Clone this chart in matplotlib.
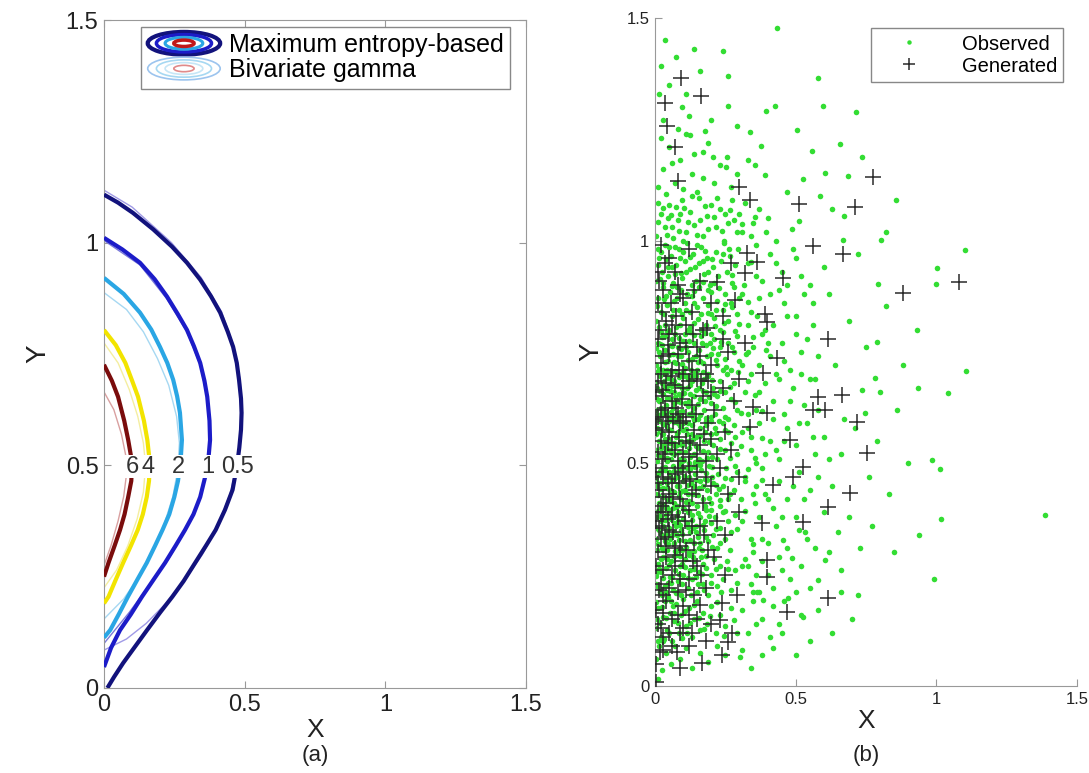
import matplotlib
matplotlib.use('Agg')
import matplotlib.pyplot as plt
import numpy as np
from matplotlib.patches import Ellipse
from matplotlib.legend_handler import HandlerBase
from matplotlib.lines import Line2D

plt.rcParams['font.family'] = ['Liberation Sans', 'DejaVu Sans']

# contour levels, points are (x, y)
levels = ['0.5', '1', '2', '4', '6']
me_05 = [(0.0,1.108),(0.05,1.09),(0.103,1.067),(0.175,1.03),(0.242,0.991),(0.295,0.955),(0.342,0.917),(0.38,0.88),
         (0.413,0.843),(0.44,0.80),(0.459,0.766),(0.472,0.73),(0.48,0.692),(0.487,0.65),(0.489,0.618),(0.487,0.58),
         (0.481,0.54),(0.473,0.50),(0.457,0.445),(0.43,0.40),(0.397,0.355),(0.363,0.32),(0.324,0.281),(0.283,0.24),
         (0.243,0.205),(0.2,0.17),(0.153,0.13),(0.107,0.09),(0.068,0.056),(0.036,0.025),(0.012,0.0)]
me_1 = [(0.0,1.011),(0.065,0.985),(0.128,0.955),(0.18,0.918),(0.224,0.879),(0.262,0.84),(0.295,0.804),(0.32,0.767),
        (0.342,0.73),(0.357,0.69),(0.367,0.654),(0.375,0.60),(0.377,0.557),(0.37,0.506),(0.358,0.47),(0.342,0.429),
        (0.318,0.39),(0.288,0.355),(0.255,0.32),(0.217,0.281),(0.178,0.245),(0.135,0.205),(0.095,0.165),(0.057,0.13),
        (0.025,0.09),(0.0,0.047)]
me_2 = [(0.0,0.921),(0.07,0.885),(0.128,0.843),(0.168,0.805),(0.199,0.766),(0.225,0.73),(0.246,0.692),(0.26,0.655),
        (0.27,0.618),(0.277,0.557),(0.272,0.506),(0.263,0.465),(0.25,0.429),(0.232,0.39),(0.208,0.355),(0.182,0.32),
        (0.152,0.281),(0.12,0.245),(0.085,0.205),(0.052,0.165),(0.022,0.13),(0.0,0.113)]
me_4 = [(0.0,0.804),(0.042,0.77),(0.076,0.73),(0.1,0.69),(0.121,0.654),(0.142,0.60),(0.154,0.557),(0.163,0.506),
        (0.16,0.465),(0.152,0.429),(0.138,0.39),(0.12,0.355),(0.096,0.32),(0.068,0.281),(0.043,0.245),(0.016,0.205),(0.0,0.19)]
me_6 = [(0.0,0.726),(0.028,0.69),(0.05,0.654),(0.072,0.60),(0.086,0.557),(0.1,0.506),(0.097,0.465),(0.086,0.429),
        (0.073,0.39),(0.057,0.355),(0.038,0.32),(0.016,0.281),(0.0,0.25)]

g_05 = [(0.0,1.118),(0.1,1.08),(0.24,1.0),(0.345,0.922),(0.418,0.845),(0.462,0.766),(0.484,0.69),(0.491,0.618),
        (0.486,0.56),(0.472,0.5),(0.448,0.435),(0.405,0.365),(0.35,0.3),(0.29,0.245),(0.22,0.19),(0.15,0.145),(0.08,0.11),(0.0,0.085)]
g_1 = [(0.0,1.005),(0.128,0.95),(0.222,0.875),(0.295,0.8),(0.342,0.725),(0.37,0.64),(0.376,0.557),(0.368,0.5),
       (0.34,0.425),(0.29,0.355),(0.23,0.29),(0.16,0.23),(0.09,0.17),(0.0,0.1)]
g_2 = [(0.0,0.888),(0.08,0.85),(0.14,0.8),(0.19,0.74),(0.23,0.68),(0.258,0.61),(0.268,0.55),(0.262,0.49),
       (0.245,0.43),(0.215,0.37),(0.175,0.31),(0.125,0.25),(0.07,0.2),(0.0,0.155)]
g_4 = [(0.0,0.775),(0.05,0.73),(0.09,0.67),(0.12,0.61),(0.14,0.55),(0.148,0.5),(0.14,0.44),(0.118,0.38),
       (0.085,0.32),(0.045,0.265),(0.0,0.225)]
g_6 = [(0.0,0.665),(0.035,0.625),(0.062,0.57),(0.078,0.52),(0.08,0.48),(0.07,0.43),(0.05,0.375),(0.025,0.32),(0.0,0.275)]

label_x = [0.473, 0.37, 0.263, 0.157, 0.1]

# panel (b) points
gen_pts = [(0.093,1.364),(0.164,1.324),(0.036,1.308),(0.043,1.256),(0.071,1.211),(0.082,1.133),(0.299,1.121),(0.338,1.092),
    (0.512,1.083),(0.712,1.076),(0.776,1.142),(0.883,0.883),(1.082,0.908),(0.562,0.987),(0.669,0.969),(0.327,0.973),
    (0.363,0.951),(0.456,0.917),(0.32,0.928),(0.221,0.906),(0.285,0.867),(0.391,0.834),(0.399,0.818),(0.616,0.778),
    (0.185,0.804),(0.242,0.778),(0.434,0.737),(0.384,0.703),(0.665,0.654),(0.58,0.649),(0.562,0.62),(0.605,0.62),
    (0.719,0.593),(0.527,0.492),(0.48,0.553),(0.349,0.627),(0.399,0.613),(0.338,0.582),(0.694,0.434),(0.616,0.402),
    (0.527,0.369),(0.381,0.366),(0.399,0.283),(0.399,0.245),(0.616,0.198),(0.47,0.166),(0.292,0.204),(0.238,0.187),
    (0.231,0.148),(0.274,0.119),(0.26,0.099),(0.238,0.07),(0.167,0.052),(0.089,0.119),(0.078,0.076),(0.018,0.076),
    (0.42,0.452),(0.491,0.47),(0.16,0.182),(0.754,0.524),
    (0.01,0.93),(0.05,0.96),(0.12,0.98),(0.02,0.99),(0.16,0.91),(0.08,0.90),(0.27,0.95),
    (0.01,0.86),(0.04,0.82),(0.09,0.88),(0.13,0.84),(0.2,0.86),(0.06,0.81),(0.24,0.83),(0.17,0.80),(0.03,0.89),(0.11,0.81),
    (0.01,0.78),(0.03,0.74),(0.06,0.71),(0.09,0.77),(0.12,0.73),(0.15,0.76),(0.2,0.72),(0.05,0.79),(0.26,0.75),(0.02,0.70),
    (0.18,0.70),(0.1,0.70),(0.32,0.77),(0.08,0.745),
    (0.005,0.66),(0.02,0.62),(0.04,0.68),(0.06,0.64),(0.08,0.61),(0.1,0.67),(0.13,0.63),(0.15,0.69),(0.17,0.65),(0.21,0.62),
    (0.24,0.67),(0.03,0.65),(0.07,0.675),(0.11,0.605),(0.28,0.64),(0.19,0.685),(0.012,0.605),(0.045,0.605),(0.3,0.69),
    (0.005,0.58),(0.02,0.55),(0.03,0.51),(0.05,0.57),(0.07,0.53),(0.09,0.59),(0.11,0.55),(0.12,0.515),(0.14,0.575),(0.16,0.54),
    (0.19,0.59),(0.22,0.52),(0.25,0.57),(0.04,0.595),(0.08,0.505),(0.01,0.525),(0.27,0.53),(0.18,0.505),(0.06,0.545),(0.1,0.52),
    (0.005,0.48),(0.015,0.44),(0.03,0.47),(0.04,0.41),(0.06,0.455),(0.08,0.49),(0.09,0.42),(0.11,0.46),(0.13,0.43),(0.15,0.48),
    (0.17,0.41),(0.2,0.45),(0.23,0.49),(0.05,0.43),(0.02,0.405),(0.07,0.475),(0.12,0.495),(0.26,0.43),(0.3,0.47),(0.1,0.405),
    (0.005,0.37),(0.02,0.33),(0.03,0.39),(0.05,0.35),(0.07,0.31),(0.08,0.38),(0.1,0.34),(0.12,0.395),(0.14,0.32),(0.16,0.36),
    (0.19,0.305),(0.22,0.37),(0.04,0.315),(0.06,0.385),(0.25,0.34),(0.11,0.305),(0.015,0.355),(0.3,0.39),
    (0.005,0.27),(0.02,0.23),(0.04,0.29),(0.06,0.25),(0.08,0.21),(0.1,0.28),(0.12,0.24),(0.15,0.27),(0.18,0.22),(0.21,0.29),
    (0.03,0.205),(0.07,0.295),(0.25,0.25),(0.14,0.205),
    (0.005,0.17),(0.02,0.13),(0.04,0.19),(0.06,0.15),(0.1,0.18),(0.13,0.12),(0.12,0.16),(0.2,0.14),(0.03,0.11),
    (0.005,0.05),(0.03,0.08),(0.005,0.01),(0.12,0.09),(0.09,0.04),
    (0.015,0.91),(0.035,0.95),(0.07,0.93),(0.1,0.87),(0.025,0.84),(0.055,0.86),(0.14,0.89),(0.075,0.83),
    (0.015,0.8),(0.045,0.765),(0.07,0.79),(0.11,0.76),(0.135,0.79),(0.02,0.725),(0.05,0.745),(0.085,0.71),(0.13,0.71),(0.16,0.74),
    (0.01,0.685),(0.035,0.625),(0.055,0.695),(0.075,0.625),(0.095,0.645),(0.12,0.685),(0.145,0.61),(0.165,0.685),(0.2,0.66),(0.025,0.665),
    (0.005,0.6),(0.025,0.575),(0.045,0.545),(0.065,0.595),(0.085,0.56),(0.1,0.595),(0.125,0.545),(0.15,0.52),(0.175,0.565),(0.035,0.52),(0.2,0.555),
    (0.01,0.455),(0.025,0.49),(0.045,0.465),(0.065,0.425),(0.085,0.455),(0.1,0.48),(0.125,0.465),(0.145,0.44),(0.18,0.47),(0.03,0.425),
    (0.01,0.39),(0.025,0.36),(0.045,0.375),(0.065,0.345),(0.09,0.315),(0.105,0.37),(0.13,0.36),(0.175,0.34),(0.035,0.335),
    (0.012,0.3),(0.03,0.26),(0.05,0.22),(0.07,0.27),(0.09,0.24),(0.11,0.215),(0.135,0.28),(0.165,0.25),(0.015,0.215),
    (0.01,0.14),(0.05,0.12),(0.08,0.16),(0.15,0.15),(0.03,0.165),(0.1,0.13),(0.18,0.1),(0.06,0.09)]

obs_pts = [(0.434,1.476),(0.242,1.425),(0.075,1.411),(0.021,1.391),(0.26,1.369),(0.58,1.364),(0.096,1.299),(0.26,1.303),
    (0.427,1.303),(0.395,1.29),(0.598,1.301),(0.715,1.288),(0.292,1.256),(0.338,1.243),(0.505,1.247),(0.125,1.236),
    (0.178,1.245),(0.658,1.216),(0.377,1.213),(0.559,1.2),(0.171,1.198),(0.206,1.187),(0.256,1.187),(0.253,1.166),
    (0.331,1.18),(0.356,1.169),(0.391,1.148),(0.605,1.151),(0.687,1.144),(0.47,1.11),(0.527,1.137),(0.63,1.07),
    (0.587,1.101),(0.673,1.054),(0.488,1.025),(0.512,1.043),(0.669,1.002),(0.737,1.187),(0.858,1.09),(0.822,1.02),(0.804,1.002),
    (1.103,0.978),(1.003,0.939),(1.0,0.903),(0.794,0.903),(0.822,0.854),(0.79,0.773),(1.107,0.708),(0.783,0.692),
    (0.936,0.67),(0.8,0.661),(1.04,0.658),(0.737,0.665),(0.747,0.613),(0.986,0.508),(1.014,0.488),(0.722,0.204),
    (0.651,0.346),(0.605,0.283),(0.58,0.238),(0.527,0.155),(0.42,0.085),(0.488,0.288),(0.456,0.328),(0.473,0.198),
    (0.363,0.211),(0.384,0.193),(0.302,0.065),(0.534,0.346),(1.385,0.385),(1.015,0.375),(0.99,0.24),(0.94,0.34),
    (0.62,0.88),(0.69,0.82),(0.75,0.76),(0.64,0.72),(0.71,0.58),(0.66,0.52),(0.76,0.47),(0.63,0.45),(0.69,0.38),(0.73,0.31),
    (0.6,0.56),(0.67,0.6),(0.62,0.3),(0.57,0.69),(0.54,0.78),(0.6,0.94),(0.72,0.97),(0.56,0.86),(0.66,0.26),(0.79,0.55),
    (0.83,0.43),(0.86,0.62),(0.9,0.5),(0.88,0.72),(0.93,0.8),(0.77,0.36),(0.85,0.3),(0.7,0.15),(0.63,0.12),(0.55,0.1),
    (0.5,0.07),(0.45,0.12),(0.58,0.17),(0.66,0.21),
    (0.31,1.02),(0.36,0.99),(0.41,0.97),(0.45,0.93),(0.33,0.95),(0.38,0.91),(0.43,1.0),(0.5,0.96),(0.47,0.9),(0.52,0.92),
    (0.35,1.04),(0.4,1.05),(0.31,0.88),(0.34,0.84),(0.37,0.87),(0.42,0.81),(0.46,0.86),(0.5,0.83),(0.53,0.88),(0.39,0.8),
    (0.33,0.81),(0.44,0.89),(0.31,0.72),(0.35,0.76),(0.38,0.79),(0.41,0.74),(0.45,0.77),(0.48,0.71),(0.52,0.75),(0.34,0.7),
    (0.43,0.7),(0.5,0.79),(0.32,0.66),(0.36,0.62),(0.39,0.68),(0.42,0.64),(0.46,0.61),(0.49,0.67),(0.53,0.63),(0.55,0.69),
    (0.33,0.61),(0.44,0.69),(0.58,0.62),(0.31,0.57),(0.34,0.53),(0.37,0.59),(0.41,0.55),(0.44,0.51),(0.47,0.58),(0.5,0.54),
    (0.54,0.59),(0.57,0.52),(0.39,0.52),(0.46,0.55),(0.32,0.47),(0.35,0.43),(0.38,0.49),(0.4,0.42),(0.44,0.46),(0.47,0.42),
    (0.51,0.48),(0.55,0.44),(0.58,0.47),(0.36,0.45),(0.42,0.4),(0.31,0.37),(0.34,0.33),(0.37,0.38),(0.4,0.32),(0.43,0.36),
    (0.47,0.31),(0.5,0.38),(0.54,0.33),(0.35,0.3),(0.31,0.27),(0.34,0.23),(0.38,0.28),(0.42,0.22),(0.45,0.26),(0.5,0.21),
    (0.52,0.27),(0.36,0.25),(0.31,0.17),(0.33,0.12),(0.38,0.15),(0.42,0.18),(0.35,0.19),(0.44,0.14),(0.31,0.08),(0.34,0.04),(0.38,0.07),
    (0.01,1.12),(0.03,1.16),(0.05,1.21),(0.07,1.13),(0.09,1.18),(0.11,1.24),(0.13,1.15),(0.15,1.11),(0.17,1.14),(0.19,1.22),
    (0.21,1.13),(0.23,1.17),(0.27,1.12),(0.29,1.15),(0.02,1.23),(0.04,1.105),(0.06,1.175),(0.1,1.115),(0.14,1.195),(0.08,1.25),
    (0.12,1.28),(0.03,1.27),(0.2,1.27),(0.015,1.33),(0.05,1.35),(0.11,1.33),(0.16,1.38),(0.035,1.45),(0.14,1.43),
    (0.005,1.01),(0.02,1.06),(0.035,1.03),(0.05,1.08),(0.065,1.005),(0.08,1.045),(0.095,1.09),(0.11,1.02),(0.125,1.065),
    (0.14,1.035),(0.155,1.095),(0.17,1.01),(0.185,1.055),(0.2,1.08),(0.215,1.03),(0.23,1.07),(0.245,1.0),(0.26,1.04),
    (0.275,1.09),(0.29,1.02),(0.3,1.06),(0.32,1.085),(0.34,1.01),(0.37,1.07),(0.01,1.085),(0.045,1.05),(0.075,1.075),
    (0.1,1.0),(0.13,1.1),(0.16,1.045),(0.19,1.025),(0.22,1.095),(0.25,1.06),(0.28,1.045),(0.06,1.03),(0.09,1.06),
    (0.005,0.91),(0.015,0.96),(0.025,0.93),(0.035,0.99),(0.045,0.92),(0.055,0.965),(0.065,0.905),(0.075,0.945),(0.085,0.98),
    (0.095,0.915),(0.105,0.955),(0.115,0.995),(0.125,0.935),(0.135,0.97),(0.145,0.91),(0.155,0.95),(0.165,0.985),(0.175,0.925),
    (0.185,0.96),(0.195,0.9),(0.205,0.94),(0.215,0.975),(0.225,0.92),(0.235,0.955),(0.245,0.995),(0.255,0.93),(0.265,0.965),
    (0.275,0.905),(0.285,0.945),(0.295,0.98),(0.01,0.945),(0.03,0.905),(0.05,0.985),(0.07,0.925),(0.09,0.96),(0.11,0.93),
    (0.13,0.9),(0.15,0.99),(0.17,0.955),(0.19,0.93),(0.21,0.905),(0.24,0.97),(0.02,0.975),(0.06,0.94),(0.1,0.975),
    (0.005,0.82),(0.012,0.87),(0.02,0.84),(0.028,0.895),(0.036,0.81),(0.044,0.855),(0.052,0.885),(0.06,0.83),(0.068,0.865),
    (0.076,0.805),(0.084,0.845),(0.092,0.89),(0.1,0.825),(0.108,0.86),(0.116,0.8),(0.124,0.84),(0.132,0.875),(0.14,0.815),
    (0.148,0.85),(0.156,0.895),(0.164,0.835),(0.172,0.87),(0.18,0.81),(0.19,0.855),(0.2,0.885),(0.21,0.825),(0.22,0.865),
    (0.23,0.8),(0.24,0.845),(0.25,0.88),(0.26,0.82),(0.27,0.86),(0.28,0.895),(0.29,0.835),(0.3,0.87),(0.015,0.805),
    (0.04,0.875),(0.065,0.845),(0.09,0.81),(0.115,0.88),(0.14,0.86),(0.165,0.8),(0.19,0.89),(0.215,0.845),(0.245,0.815),
    (0.275,0.85),(0.032,0.835),(0.078,0.895),(0.125,0.805),(0.2,0.835),
    (0.004,0.72),(0.01,0.77),(0.016,0.74),(0.022,0.795),(0.028,0.71),(0.034,0.755),(0.04,0.785),(0.046,0.73),(0.052,0.765),
    (0.058,0.705),(0.064,0.745),(0.07,0.79),(0.076,0.725),(0.082,0.76),(0.088,0.7),(0.094,0.74),(0.1,0.775),(0.108,0.715),
    (0.116,0.75),(0.124,0.795),(0.132,0.735),(0.14,0.77),(0.148,0.71),(0.156,0.755),(0.164,0.785),(0.172,0.725),(0.18,0.765),
    (0.19,0.7),(0.2,0.745),(0.21,0.78),(0.22,0.72),(0.23,0.76),(0.24,0.795),(0.25,0.735),(0.26,0.77),(0.27,0.71),(0.28,0.75),
    (0.29,0.785),(0.008,0.705),(0.026,0.765),(0.044,0.71),(0.062,0.78),(0.08,0.74),(0.098,0.705),(0.12,0.775),(0.145,0.74),
    (0.17,0.705),(0.195,0.77),(0.225,0.745),(0.255,0.7),(0.013,0.75),(0.05,0.8),(0.105,0.79),(0.16,0.73),(0.3,0.73),
    (0.003,0.62),(0.008,0.67),(0.013,0.64),(0.018,0.695),(0.023,0.61),(0.028,0.655),(0.033,0.685),(0.038,0.63),(0.043,0.665),
    (0.048,0.605),(0.053,0.645),(0.058,0.69),(0.063,0.625),(0.068,0.66),(0.073,0.6),(0.078,0.64),(0.083,0.675),(0.088,0.615),
    (0.093,0.65),(0.098,0.695),(0.105,0.635),(0.112,0.67),(0.119,0.61),(0.126,0.655),(0.133,0.685),(0.14,0.625),(0.147,0.665),
    (0.154,0.6),(0.161,0.645),(0.168,0.68),(0.175,0.62),(0.182,0.66),(0.19,0.695),(0.198,0.635),(0.206,0.67),(0.214,0.61),
    (0.222,0.65),(0.23,0.685),(0.24,0.625),(0.25,0.66),(0.26,0.6),(0.27,0.645),(0.28,0.68),(0.29,0.62),(0.006,0.645),
    (0.02,0.625),(0.036,0.7),(0.05,0.675),(0.066,0.635),(0.08,0.605),(0.096,0.67),(0.116,0.69),(0.136,0.605),(0.158,0.67),
    (0.178,0.64),(0.2,0.605),(0.026,0.68),(0.056,0.615),(0.086,0.655),(0.12,0.64),
    (0.003,0.53),(0.008,0.58),(0.013,0.55),(0.018,0.595),(0.023,0.515),(0.028,0.565),(0.033,0.54),(0.038,0.585),(0.043,0.505),
    (0.048,0.555),(0.053,0.53),(0.058,0.575),(0.063,0.6),(0.068,0.52),(0.073,0.56),(0.078,0.54),(0.083,0.59),(0.088,0.51),
    (0.093,0.55),(0.098,0.575),(0.105,0.525),(0.112,0.565),(0.119,0.5),(0.126,0.545),(0.133,0.585),(0.14,0.52),(0.147,0.56),
    (0.154,0.535),(0.161,0.58),(0.168,0.505),(0.175,0.55),(0.182,0.595),(0.19,0.525),(0.198,0.565),(0.206,0.54),(0.214,0.58),
    (0.222,0.51),(0.23,0.555),(0.24,0.59),(0.25,0.53),(0.26,0.57),(0.27,0.545),(0.28,0.585),(0.29,0.52),(0.006,0.505),
    (0.02,0.57),(0.036,0.525),(0.05,0.595),(0.066,0.545),(0.08,0.57),(0.096,0.505),(0.116,0.59),(0.136,0.555),(0.158,0.51),
    (0.178,0.57),(0.2,0.595),(0.026,0.54),(0.056,0.51),(0.086,0.6),(0.12,0.535),
    (0.004,0.43),(0.009,0.475),(0.014,0.41),(0.019,0.455),(0.024,0.49),(0.029,0.425),(0.034,0.465),(0.039,0.4),(0.044,0.445),
    (0.049,0.48),(0.054,0.415),(0.059,0.46),(0.064,0.495),(0.069,0.435),(0.074,0.47),(0.079,0.405),(0.084,0.45),(0.089,0.485),
    (0.094,0.42),(0.099,0.46),(0.106,0.44),(0.113,0.49),(0.12,0.415),(0.127,0.455),(0.134,0.43),(0.141,0.475),(0.148,0.405),
    (0.155,0.445),(0.162,0.485),(0.169,0.42),(0.176,0.465),(0.183,0.44),(0.191,0.495),(0.199,0.41),(0.207,0.455),(0.215,0.43),
    (0.223,0.475),(0.231,0.405),(0.241,0.45),(0.251,0.49),(0.261,0.42),(0.271,0.465),(0.281,0.44),(0.291,0.48),(0.007,0.45),
    (0.022,0.405),(0.037,0.485),(0.052,0.44),(0.067,0.41),(0.082,0.47),(0.097,0.49),(0.117,0.43),(0.137,0.495),(0.159,0.46),
    (0.179,0.405),(0.201,0.47),(0.027,0.445),(0.057,0.425),(0.087,0.435),(0.122,0.47),
    (0.003,0.33),(0.008,0.38),(0.013,0.35),(0.018,0.395),(0.023,0.31),(0.028,0.36),(0.033,0.335),(0.038,0.385),(0.043,0.305),
    (0.048,0.355),(0.053,0.33),(0.058,0.375),(0.063,0.4),(0.068,0.32),(0.073,0.36),(0.078,0.34),(0.083,0.39),(0.088,0.31),
    (0.093,0.35),(0.098,0.375),(0.105,0.325),(0.112,0.365),(0.119,0.3),(0.126,0.345),(0.133,0.385),(0.14,0.32),(0.147,0.36),
    (0.154,0.335),(0.161,0.38),(0.168,0.305),(0.175,0.35),(0.182,0.395),(0.19,0.325),(0.198,0.365),(0.206,0.34),(0.214,0.38),
    (0.222,0.31),(0.23,0.355),(0.24,0.39),(0.25,0.33),(0.26,0.37),(0.27,0.345),(0.285,0.385),(0.006,0.305),(0.02,0.37),
    (0.036,0.325),(0.05,0.395),(0.066,0.345),(0.08,0.37),(0.096,0.305),(0.116,0.39),(0.136,0.355),(0.158,0.31),(0.178,0.37),(0.2,0.395),
    (0.004,0.23),(0.01,0.275),(0.016,0.21),(0.022,0.255),(0.028,0.29),(0.034,0.225),(0.04,0.265),(0.046,0.2),(0.052,0.245),
    (0.058,0.28),(0.064,0.215),(0.07,0.26),(0.076,0.295),(0.082,0.235),(0.088,0.27),(0.094,0.205),(0.1,0.25),(0.108,0.285),
    (0.116,0.22),(0.124,0.26),(0.132,0.24),(0.14,0.28),(0.148,0.21),(0.156,0.255),(0.164,0.29),(0.172,0.23),(0.18,0.265),
    (0.19,0.205),(0.2,0.25),(0.21,0.285),(0.22,0.225),(0.23,0.27),(0.24,0.24),(0.255,0.28),(0.27,0.215),(0.285,0.26),
    (0.007,0.255),(0.025,0.205),(0.043,0.285),(0.061,0.245),(0.079,0.21),(0.097,0.275),(0.12,0.295),(0.145,0.245),(0.17,0.275),
    (0.005,0.13),(0.012,0.175),(0.02,0.11),(0.028,0.155),(0.036,0.19),(0.044,0.125),(0.052,0.165),(0.06,0.1),(0.068,0.145),
    (0.076,0.185),(0.084,0.12),(0.092,0.16),(0.1,0.195),(0.11,0.135),(0.12,0.175),(0.13,0.11),(0.14,0.15),(0.15,0.19),
    (0.16,0.125),(0.17,0.165),(0.185,0.14),(0.2,0.18),(0.215,0.12),(0.23,0.16),(0.25,0.135),(0.27,0.175),(0.29,0.12),
    (0.008,0.15),(0.032,0.105),(0.064,0.18),
    (0.005,0.06),(0.015,0.09),(0.025,0.035),(0.04,0.075),(0.055,0.05),(0.07,0.09),(0.09,0.06),(0.11,0.085),(0.13,0.04),
    (0.16,0.075),(0.19,0.055),(0.22,0.09),(0.01,0.015),(0.03,0.1),(0.25,0.07),
    (0.007,0.852),(0.017,0.913),(0.031,0.868),(0.047,0.94),(0.062,0.897),(0.077,0.872),(0.091,0.928),(0.109,0.843),(0.123,0.962),
    (0.138,0.887),(0.152,0.823),(0.171,0.906),(0.187,0.838),(0.204,0.958),(0.226,0.893),(0.248,0.857),(0.272,0.922),(0.297,0.812),
    (0.318,0.9),(0.342,0.951),(0.011,0.982),(0.039,0.958),(0.071,0.985),(0.097,0.836),(0.143,0.94),(0.178,0.977),(0.213,0.808),
    (0.262,0.98),(0.332,0.862),(0.362,0.83),
    (0.005,0.758),(0.014,0.712),(0.025,0.783),(0.037,0.728),(0.049,0.742),(0.061,0.763),(0.072,0.708),(0.086,0.781),(0.097,0.722),
    (0.111,0.761),(0.127,0.709),(0.139,0.788),(0.153,0.727),(0.167,0.769),(0.183,0.741),(0.198,0.79),(0.216,0.732),(0.234,0.772),
    (0.252,0.716),(0.273,0.762),(0.296,0.704),(0.322,0.745),(0.348,0.784),(0.371,0.72),(0.018,0.768),(0.042,0.797),(0.066,0.727),
    (0.091,0.757),(0.118,0.731),(0.142,0.702),(0.176,0.793),(0.207,0.758),(0.24,0.71),(0.285,0.797),(0.395,0.755),
    (0.002,0.683),(0.01,0.608),(0.016,0.662),(0.022,0.643),(0.029,0.618),(0.035,0.672),(0.041,0.647),(0.047,0.692),(0.054,0.662),
    (0.06,0.603),(0.066,0.684),(0.071,0.648),(0.077,0.612),(0.084,0.693),(0.09,0.638),(0.097,0.617),(0.103,0.658),(0.11,0.697),
    (0.117,0.628),(0.124,0.675),(0.131,0.613),(0.138,0.652),(0.145,0.695),(0.152,0.632),(0.16,0.608),(0.169,0.663),(0.18,0.602),
    (0.191,0.648),(0.203,0.688),(0.217,0.628),(0.232,0.662),(0.248,0.605),(0.265,0.672),(0.284,0.637),(0.305,0.612),(0.33,0.685),
    (0.355,0.653),(0.38,0.618),(0.013,0.608),(0.039,0.612),(0.061,0.673),(0.094,0.606),(0.128,0.697),(0.173,0.69),(0.21,0.655),
    (0.002,0.565),(0.01,0.518),(0.016,0.572),(0.022,0.535),(0.029,0.588),(0.035,0.555),(0.041,0.512),(0.047,0.578),(0.054,0.546),
    (0.06,0.522),(0.066,0.592),(0.071,0.538),(0.077,0.568),(0.084,0.526),(0.09,0.583),(0.097,0.542),(0.103,0.508),(0.11,0.578),
    (0.117,0.55),(0.124,0.514),(0.131,0.566),(0.138,0.597),(0.145,0.538),(0.152,0.506),(0.16,0.562),(0.169,0.528),(0.18,0.586),
    (0.191,0.547),(0.203,0.515),(0.217,0.567),(0.232,0.532),(0.248,0.575),(0.265,0.512),(0.284,0.56),(0.305,0.538),(0.33,0.58),
    (0.355,0.512),(0.38,0.556),(0.012,0.598),(0.044,0.533),(0.069,0.598),(0.101,0.59),(0.141,0.503),(0.186,0.512),(0.226,0.594),
    (0.002,0.468),(0.01,0.428),(0.016,0.482),(0.022,0.442),(0.029,0.408),(0.035,0.492),(0.041,0.455),(0.047,0.418),(0.054,0.472),
    (0.06,0.438),(0.066,0.482),(0.071,0.402),(0.077,0.448),(0.084,0.426),(0.09,0.498),(0.097,0.438),(0.103,0.472),(0.11,0.412),
    (0.117,0.452),(0.124,0.488),(0.131,0.41),(0.138,0.448),(0.145,0.462),(0.152,0.428),(0.16,0.496),(0.169,0.448),(0.18,0.478),
    (0.191,0.422),(0.203,0.492),(0.217,0.452),(0.232,0.418),(0.248,0.468),(0.265,0.43),(0.284,0.495),(0.305,0.42),(0.33,0.488),
    (0.355,0.41),(0.38,0.462),(0.012,0.455),(0.044,0.402),(0.069,0.465),(0.101,0.4),(0.141,0.492),(0.186,0.462),(0.226,0.442),
    (0.002,0.355),(0.01,0.318),(0.016,0.382),(0.022,0.342),(0.029,0.305),(0.035,0.372),(0.041,0.348),(0.047,0.318),(0.054,0.392),
    (0.06,0.338),(0.066,0.366),(0.071,0.302),(0.077,0.382),(0.084,0.328),(0.09,0.362),(0.097,0.342),(0.103,0.398),(0.11,0.312),
    (0.117,0.358),(0.124,0.328),(0.131,0.372),(0.138,0.302),(0.145,0.345),(0.152,0.388),(0.16,0.322),(0.169,0.362),(0.18,0.335),
    (0.191,0.382),(0.203,0.312),(0.217,0.352),(0.232,0.322),(0.248,0.392),(0.265,0.305),(0.29,0.352),(0.32,0.392),(0.35,0.318),
    (0.012,0.392),(0.044,0.342),(0.081,0.306),(0.122,0.392),
    (0.002,0.248),(0.012,0.222),(0.02,0.285),(0.03,0.242),(0.038,0.212),(0.048,0.272),(0.056,0.232),(0.066,0.292),(0.074,0.208),
    (0.085,0.252),(0.096,0.228),(0.106,0.268),(0.118,0.242),(0.128,0.205),(0.138,0.262),(0.152,0.228),(0.166,0.252),(0.182,0.292),
    (0.198,0.232),(0.216,0.262),(0.236,0.212),(0.26,0.262),(0.29,0.232),(0.32,0.285),(0.35,0.21),(0.015,0.262),(0.045,0.232),
    (0.09,0.292),(0.135,0.29),(0.175,0.215),
    (0.003,0.188),(0.016,0.142),(0.026,0.178),(0.04,0.152),(0.05,0.118),(0.066,0.165),(0.08,0.142),(0.095,0.108),(0.106,0.168),
    (0.124,0.142),(0.138,0.182),(0.156,0.152),(0.175,0.128),(0.195,0.158),(0.222,0.188),(0.245,0.112),(0.28,0.148),(0.012,0.102),
    (0.058,0.192),(0.114,0.118),
    (0.012,1.042),(0.028,1.072),(0.042,1.012),(0.058,1.058),(0.086,1.022),(0.104,1.072),(0.118,1.042),(0.148,1.012),(0.176,1.078),
    (0.208,1.052),(0.238,1.022),(0.268,1.068),(0.31,1.038),(0.355,1.052),(0.395,1.02),
    (0.41,0.88),(0.47,0.83),(0.56,0.81),(0.36,0.92),(0.43,0.95),(0.49,0.98),(0.55,0.9),(0.4,0.77),(0.46,0.73),(0.52,0.7),
    (0.58,0.74),(0.37,0.66),(0.42,0.6),(0.48,0.64),(0.51,0.59),(0.56,0.56),(0.62,0.51),(0.36,0.5),(0.43,0.53),(0.49,0.45),
    (0.53,0.42),(0.6,0.39),(0.39,0.43),(0.45,0.38),(0.51,0.35),(0.57,0.31),(0.38,0.33),(0.44,0.29),(0.48,0.24),(0.55,0.22),
    (0.4,0.25),(0.46,0.19),(0.52,0.16),(0.36,0.14),(0.41,0.11),(0.37,0.21),(0.33,0.27),(0.32,0.46),(0.34,0.56),(0.33,0.75)]

ticks = [0, 0.5, 1, 1.5]
tick_labels = ['0', '0.5', '1', '1.5']

me_colors = ['#12127c', '#1c1cc8', '#2aa6e4', '#f2e400', '#7a0c0c']
g_colors = ['#a09ae6', '#7a7ada', '#a6d8f2', '#f4eea0', '#d9a0a0']


class RingHandler(HandlerBase):
    def __init__(self, cols, lws):
        HandlerBase.__init__(self)
        self.cols = cols
        self.lws = lws

    def create_artists(self, legend, orig_handle, xdescent, ydescent, width, height, fontsize, trans):
        cx = width / 2 - xdescent
        cy = height / 2 - ydescent
        arts = []
        for i in range(len(self.cols)):
            f = 1 - i * 0.24
            e = Ellipse((cx, cy), width * f, height * 1.3 * f, fill=False,
                        edgecolor=self.cols[i], lw=self.lws[i], transform=trans)
            arts.append(e)
        return arts


fig = plt.figure(figsize=(10.89, 7.73), dpi=100)
ax1 = fig.add_axes([0.0955, 0.110, 0.3875, 0.864])
ax2 = fig.add_axes([0.6015, 0.1125, 0.3875, 0.8645])

# (a) contours
for pts, c in zip([g_05, g_1, g_2, g_4, g_6], g_colors):
    a = np.array(pts)
    ax1.plot(a[:, 0], a[:, 1], color=c, lw=1.0, zorder=2)
for pts, c in zip([me_05, me_1, me_2, me_4, me_6], me_colors):
    a = np.array(pts)
    ax1.plot(a[:, 0], a[:, 1], color=c, lw=3.0, zorder=3, solid_capstyle='butt')
for x, s in zip(label_x, levels):
    ax1.text(x, 0.497, s, ha='center', va='center', fontsize=17, color='#333333', zorder=5,
             bbox=dict(facecolor='white', edgecolor='none', pad=0.3))

h1 = Line2D([], [])
h2 = Line2D([], [])
ax1.legend([h1, h2], ['Maximum entropy-based', 'Bivariate gamma'],
           handler_map={h1: RingHandler(['#12127c', '#1c1cc8', '#2aa6e4', '#c01818'], [3, 2.5, 2.2, 2.5]),
                        h2: RingHandler(['#9cc4ee', '#a6d8f2', '#c6e6f6', '#e08a8a'], [1.2, 1.2, 1.2, 1.2])},
           loc='upper right', bbox_to_anchor=(0.962, 0.99), borderaxespad=0, fontsize=18,
           fancybox=False, edgecolor='#888888', handlelength=2.9, handletextpad=0.35,
           labelspacing=0.05, borderpad=0.25, framealpha=1)

ax1.set_xlim(0, 1.5)
ax1.set_ylim(0, 1.5)
ax1.set_xticks(ticks)
ax1.set_xticklabels(tick_labels)
ax1.set_yticks(ticks)
ax1.set_yticklabels(tick_labels)
ax1.tick_params(direction='in', length=5, color='#999999', labelcolor='#222222', labelsize=17, pad=4,
                top=True, right=True)
for sp in ax1.spines.values():
    sp.set_color('#999999')
ax1.set_xlabel('X', fontsize=19, labelpad=2, color='#222222')
ax1.set_ylabel('Y', fontsize=20, labelpad=10, color='#222222')

# (b) scatter
o = np.array(obs_pts)
g = np.array(gen_pts)
ax2.plot(o[:, 0], o[:, 1], 'o', ms=4.0, color='#33dd33', mec='none', label='Observed', zorder=2)
ax2.plot(g[:, 0], g[:, 1], '+', ms=11, mew=1.1, color='#2a2a2a', label='Generated', zorder=3)
ax2.legend(loc='upper right', bbox_to_anchor=(0.967, 0.984), borderaxespad=0, fontsize=14.5,
           fancybox=False, edgecolor='#888888', handlelength=3.2, handletextpad=1.0,
           labelspacing=0.15, borderpad=0.3, framealpha=1, markerscale=0.8)
ax2.set_xlim(0, 1.5)
ax2.set_ylim(0, 1.5)
ax2.set_xticks(ticks)
ax2.set_xticklabels(tick_labels)
ax2.set_yticks(ticks)
ax2.set_yticklabels(tick_labels)
ax2.spines['top'].set_visible(False)
ax2.spines['right'].set_visible(False)
ax2.spines['left'].set_color('#999999')
ax2.spines['bottom'].set_color('#999999')
ax2.tick_params(direction='in', length=5, color='#999999', labelcolor='#222222', labelsize=12, pad=4)
ax2.set_xlabel('X', fontsize=19, labelpad=2, color='#222222')
ax2.set_ylabel('Y', fontsize=20, labelpad=16, color='#222222')

fig.text((0.0955 + 0.3875 / 2), 0.022, '(a)', ha='center', va='center', fontsize=16, color='#222222')
fig.text((0.6015 + 0.3875 / 2), 0.022, '(b)', ha='center', va='center', fontsize=16, color='#222222')

fig.savefig('out.png', dpi=100)
